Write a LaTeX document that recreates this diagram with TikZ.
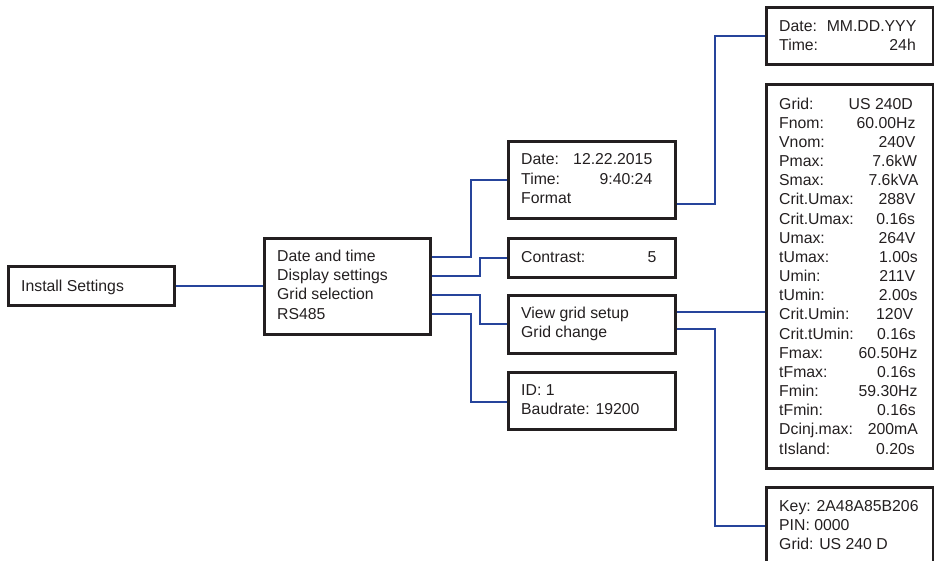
\documentclass[tikz,border=0pt]{standalone}
\usepackage{fontspec}
\setmainfont{Liberation Sans}
\usetikzlibrary{calc}
\definecolor{boxline}{RGB}{35,31,32}
\definecolor{connblue}{RGB}{38,68,155}
\begin{document}
\begin{tikzpicture}[x=1pt,y=-1pt,
  box/.style={draw=boxline,line width=2.6pt,rectangle,anchor=north west,inner sep=0pt},
  conn/.style={draw=connblue,line width=2.2pt},
  txt/.style={inner sep=0pt,anchor=base west,text=boxline,font=\fontsize{15.8}{19.2}\selectfont},
  txtr/.style={txt,anchor=base east}]
\useasboundingbox (0,0) rectangle (934,560);
\clip (0,0) rectangle (934,560);
% boxes
\node[box,minimum width=166pt,minimum height=39pt] (inst) at (7,265) {};
\node[box,minimum width=166pt,minimum height=96pt] (menu) at (263,237) {};
\node[box,minimum width=167pt,minimum height=77pt] (dt) at (507,140) {};
\node[box,minimum width=167pt,minimum height=39pt] (con) at (507,237) {};
\node[box,minimum width=167pt,minimum height=58pt] (vg) at (507,294) {};
\node[box,minimum width=167pt,minimum height=57pt] (id) at (507,371) {};
\node[box,minimum width=167pt,minimum height=57pt] (fmt) at (765,6) {};
\node[box,minimum width=167pt,minimum height=384pt] (grid) at (765,83) {};
\node[box,minimum width=167pt,minimum height=100pt] (key) at (765,486) {};
% texts
\node[txt] (t0) at (21,291) {Install Settings};
\node[txt] (m1) at (277,261.5) {Date and time};
\node[txt] (m2) at (277,280.7) {Display settings};
\node[txt] (m3) at (277,299.9) {Grid selection};
\node[txt] (m4) at (277,319.1) {RS485};
\node[txt] (d1) at (521,164.7) {Date:};
\node[txtr] (d1v) at (652.5,164.7) {12.22.2015};
\node[txt] (d2) at (521,184) {Time:};
\node[txtr] (d2v) at (652.5,184) {9:40:24};
\node[txt] (d3) at (521,203.2) {Format};
\node[txt] (c1) at (521,262.5) {Contrast:};
\node[txtr] (c1v) at (656.5,262.5) {5};
\node[txt] (v1) at (521,318.7) {View grid setup};
\node[txt] (v2) at (521,337.9) {Grid change};
\node[txt] (i1) at (521,395.7) {ID: 1};
\node[txt] (i2) at (521,414.9) {Baudrate: 19200};
\node[txt] (f1) at (779,31.4) {Date:};
\node[txtr] (f1v) at (916.5,31.4) {MM.DD.YYY};
\node[txt] (f2) at (779,50.3) {Time:};
\node[txtr] (f2v) at (916,50.3) {24h};
\foreach \lab/\val/\rx [count=\i from 0] in {
  Grid:/US 240D/913, Fnom:/60.00Hz/915.7, Vnom:/240V/915.7, Pmax:/7.6kW/917.3,
  Smax:/7.6kVA/918.5, Crit.Umax:/288V/915.7, Crit.Umax:/0.16s/915.3, Umax:/264V/915.7,
  tUmax:/1.00s/918, Umin:/211V/915.3, tUmin:/2.00s/917.7, Crit.Umin:/120V/913.3,
  Crit.tUmin:/0.16s/916, Fmax:/60.50Hz/917.7, tFmax:/0.16s/916, Fmin:/59.30Hz/917.7,
  tFmin:/0.16s/916, Dcinj.max:/200mA/918, tIsland:/0.20s/915}
{
  \node[txt] (gl\i) at (779,{109+19.17*\i}) {\lab};
  \node[txtr] (gv\i) at (\rx,{109+19.17*\i}) {\val};
}
\node[txt] (k1) at (779,511.4) {Key: 2A48A85B206};
\node[txt] (k2) at (779,530.6) {PIN: 0000};
\node[txt] (k3) at (779,549.8) {Grid: US 240 D};
% connectors
\draw[conn] (inst.east) -- (menu.west |- inst.east);
\draw[conn] ($(menu.north east)+(0,20)$) -- ++(39,0) |- (dt.west);
\draw[conn] ($(menu.north east)+(0,39)$) -- ++(48,0) |- (con.west);
\draw[conn] ($(menu.north east)+(0,58)$) -- ++(48,0) |- (vg.west);
\draw[conn] ($(menu.north east)+(0,77)$) -- ++(39,0) |- ($(id.north west)+(0,31)$);
\draw[conn] ($(dt.south east)+(0,-16)$) -- ++(38,0) |- (fmt.west);
\draw[conn] ($(vg.north east)+(0,18)$) coordinate (c6s) -- (c6s -| grid.west);
\draw[conn] ($(vg.north east)+(0,35)$) -- ++(38,0) |- ($(key.north west)+(0,40)$);
\end{tikzpicture}
\end{document}
